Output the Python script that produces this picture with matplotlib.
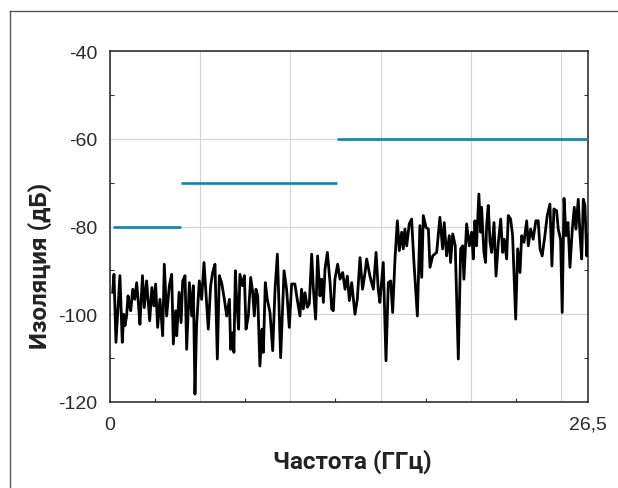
import matplotlib
matplotlib.use("Agg")
import matplotlib.pyplot as plt
from matplotlib.lines import Line2D

# ---- data ----
freq_ghz = [
    0.15, 0.22, 0.33, 0.44, 0.55, 0.68, 0.76, 0.83, 0.92, 1.00,
    1.08, 1.15, 1.26, 1.37, 1.48, 1.57, 1.66, 1.80, 1.90, 2.03,
    2.12, 2.20, 2.32, 2.43, 2.53, 2.64, 2.77, 2.92, 3.01, 3.14,
    3.29, 3.42, 3.51, 3.64, 3.70, 3.83, 3.94, 4.03, 4.16, 4.25,
    4.40, 4.53, 4.62, 4.71, 4.80, 4.95, 5.08, 5.21, 5.32, 5.45,
    5.58, 5.69, 5.82, 5.95, 6.06, 6.19, 6.34, 6.47, 6.62, 6.69,
    6.80, 6.87, 6.95, 7.02, 7.13, 7.20, 7.35, 7.45, 7.54, 7.67,
    7.80, 7.91, 8.00, 8.09, 8.19, 8.31, 8.43, 8.50, 8.61, 8.72,
    8.87, 9.02, 9.15, 9.28, 9.46, 9.65, 9.79, 9.94, 10.07, 10.25,
    10.38, 10.53, 10.62, 10.72, 10.81, 10.94, 11.05, 11.18, 11.27, 11.40,
    11.51, 11.64, 11.73, 11.83, 11.92, 12.05, 12.20, 12.29, 12.38, 12.47,
    12.62, 12.75, 12.90, 13.03, 13.16, 13.27, 13.40, 13.58, 13.71, 13.86,
    14.00, 14.14, 14.23, 14.41, 14.60, 14.75, 14.87, 14.96, 15.15, 15.30,
    15.43, 15.56, 15.67, 15.80, 15.93, 16.04, 16.17, 16.26, 16.35, 16.45,
    16.59, 16.72, 16.85, 17.04, 17.18, 17.28, 17.37, 17.52, 17.65, 17.74,
    17.89, 18.11, 18.29, 18.44, 18.53, 18.66, 18.81, 18.88, 19.00, 19.14,
    19.31, 19.44, 19.55, 19.62, 19.77, 19.92, 20.05, 20.14, 20.23, 20.32,
    20.45, 20.55, 20.60, 20.73, 20.82, 20.88, 20.97, 21.07, 21.16, 21.29,
    21.40, 21.53, 21.66, 21.77, 21.86, 21.99, 22.08, 22.21, 22.32, 22.49,
    22.60, 22.73, 22.82, 22.95, 23.10, 23.19, 23.32, 23.46, 23.61, 23.74,
    23.84, 23.96, 24.11, 24.24, 24.39, 24.50, 24.61, 24.76, 24.85, 24.98,
    25.07, 25.17, 25.28, 25.39, 25.50, 25.63, 25.74, 25.83, 25.96, 26.05,
    26.15, 26.24, 26.33, 26.43, 26.50,
]
isolation_db = [
    -95.0, -90.9, -106.4, -99.0, -91.2, -106.4, -100.0, -102.6, -100.4, -95.8,
    -98.1, -99.2, -94.3, -96.6, -92.8, -97.3, -102.3, -91.2, -98.5, -92.4,
    -97.3, -101.5, -93.9, -98.1, -93.1, -103.0, -96.6, -104.9, -88.6, -100.4,
    -93.5, -90.9, -106.8, -99.2, -104.9, -95.0, -101.9, -92.4, -91.2, -108.0,
    -92.8, -100.4, -93.5, -118.2, -102.6, -92.4, -96.6, -88.2, -95.0, -103.4,
    -93.5, -90.5, -88.6, -110.2, -91.2, -92.8, -96.6, -100.4, -96.6, -108.0,
    -104.2, -108.7, -90.1, -96.6, -103.4, -90.9, -93.5, -91.2, -103.4, -100.4,
    -91.6, -95.0, -100.4, -94.3, -95.8, -111.8, -103.4, -108.7, -92.8, -96.6,
    -99.6, -108.3, -94.3, -86.3, -109.9, -90.1, -94.3, -103.0, -93.1, -93.1,
    -96.6, -100.4, -94.3, -98.8, -95.1, -98.4, -97.6, -86.3, -93.9, -101.1,
    -86.7, -95.8, -92.0, -97.3, -89.7, -85.9, -92.8, -98.8, -99.2, -92.0,
    -88.6, -92.0, -90.5, -94.3, -91.3, -96.9, -92.8, -100.0, -96.6, -87.1,
    -94.3, -90.5, -87.4, -91.3, -94.3, -85.9, -94.3, -97.3, -88.2, -110.6,
    -92.8, -92.4, -99.6, -87.4, -78.7, -85.5, -81.3, -85.1, -80.6, -84.4,
    -79.4, -78.3, -88.2, -100.4, -79.8, -91.6, -77.5, -80.2, -80.6, -89.3,
    -86.7, -85.9, -77.9, -85.1, -79.1, -86.7, -82.1, -88.2, -81.7, -84.4,
    -110.2, -85.1, -84.4, -92.0, -79.4, -84.4, -81.3, -87.4, -78.7, -84.4,
    -72.6, -81.3, -75.6, -85.9, -88.2, -79.8, -75.2, -83.6, -85.9, -79.1,
    -91.3, -83.6, -78.3, -85.9, -82.9, -87.4, -77.5, -78.3, -82.1, -101.1,
    -85.1, -90.5, -82.1, -83.6, -78.7, -84.4, -80.6, -82.9, -78.7, -78.7,
    -85.1, -86.7, -82.1, -77.5, -74.9, -89.0, -76.0, -76.4, -80.6, -82.9,
    -99.6, -73.6, -82.1, -79.1, -89.3, -80.6, -75.6, -80.6, -73.8, -81.3,
    -87.4, -73.8, -75.2, -86.7, -82.0,
]

# specification limit steps
limit_start_ghz = [0.15, 3.95, 12.6]
limit_end_ghz = [3.95, 12.6, 26.5]
limit_db = [-80, -70, -60]

x_major = [0, 5, 10, 15, 20, 25, 26.5]
x_labels = ["0", "", "", "", "", "", "26,5"]
x_minor = [2.5, 7.5, 12.5, 17.5, 22.5]
y_major = [-120, -100, -80, -60, -40]
y_labels = ["-120", "-100", "-80", "-60", "-40"]
y_minor = [-110, -90, -70, -50]

W, H = 618, 489
fig = plt.figure(figsize=(W / 100, H / 100), dpi=100)
fig.patch.set_facecolor("white")

# outer frame (left and top edges visible)
frame_col = "#555555"
fig.add_artist(Line2D([10 / W, 10 / W], [0, 1 - 12 / H], transform=fig.transFigure,
                      color=frame_col, lw=1.0))
fig.add_artist(Line2D([10 / W, 1], [1 - 12 / H, 1 - 12 / H], transform=fig.transFigure,
                      color=frame_col, lw=1.0))

left, right, top, bottom = 110, 588, 52, 403
ax = fig.add_axes([left / W, 1 - bottom / H, (right - left) / W, (bottom - top) / H])

ax.plot(freq_ghz, isolation_db, color="black", lw=2.0, solid_joinstyle="round", zorder=3)
for x0, x1, y in zip(limit_start_ghz, limit_end_ghz, limit_db):
    ax.plot([x0, x1], [y, y], color="#1a7ea6", lw=1.9, solid_capstyle="butt", zorder=4)

ax.set_xlim(0, 26.5)
ax.set_ylim(-120, -40)

ax.set_xticks(x_major)
ax.set_xticklabels(x_labels)
ax.set_xticks(x_minor, minor=True)
ax.set_yticks(y_major)
ax.set_yticklabels(y_labels)
ax.set_yticks(y_minor, minor=True)

ax.grid(True, which="major", color="#d3d3d3", lw=0.8)
ax.set_axisbelow(True)

ax.tick_params(which="major", length=0, labelsize=14, labelcolor="#2a2a2a")
ax.tick_params(axis="y", which="major", pad=9)
ax.tick_params(axis="x", which="major", pad=10)
ax.tick_params(which="minor", direction="in", length=3, width=0.8, color="#333333",
               right=True, left=True, bottom=True, top=False)
for lab in ax.get_xticklabels() + ax.get_yticklabels():
    lab.set_fontfamily("Liberation Sans")

for sp in ax.spines.values():
    sp.set_color("#222222")
    sp.set_linewidth(1.1)

fig.text(40 / W, 1 - 266 / H, "Изоляция (дБ)", rotation=90, ha="center", va="center",
         fontsize=17.5, fontweight="bold", family="Roboto", color="#222222")
fig.text(352 / W, 1 - 462 / H, "Частота (ГГц)", ha="center", va="center",
         fontsize=17.5, fontweight="bold", family="Roboto", color="#222222")

fig.savefig("out.png", dpi=100, facecolor="white")
